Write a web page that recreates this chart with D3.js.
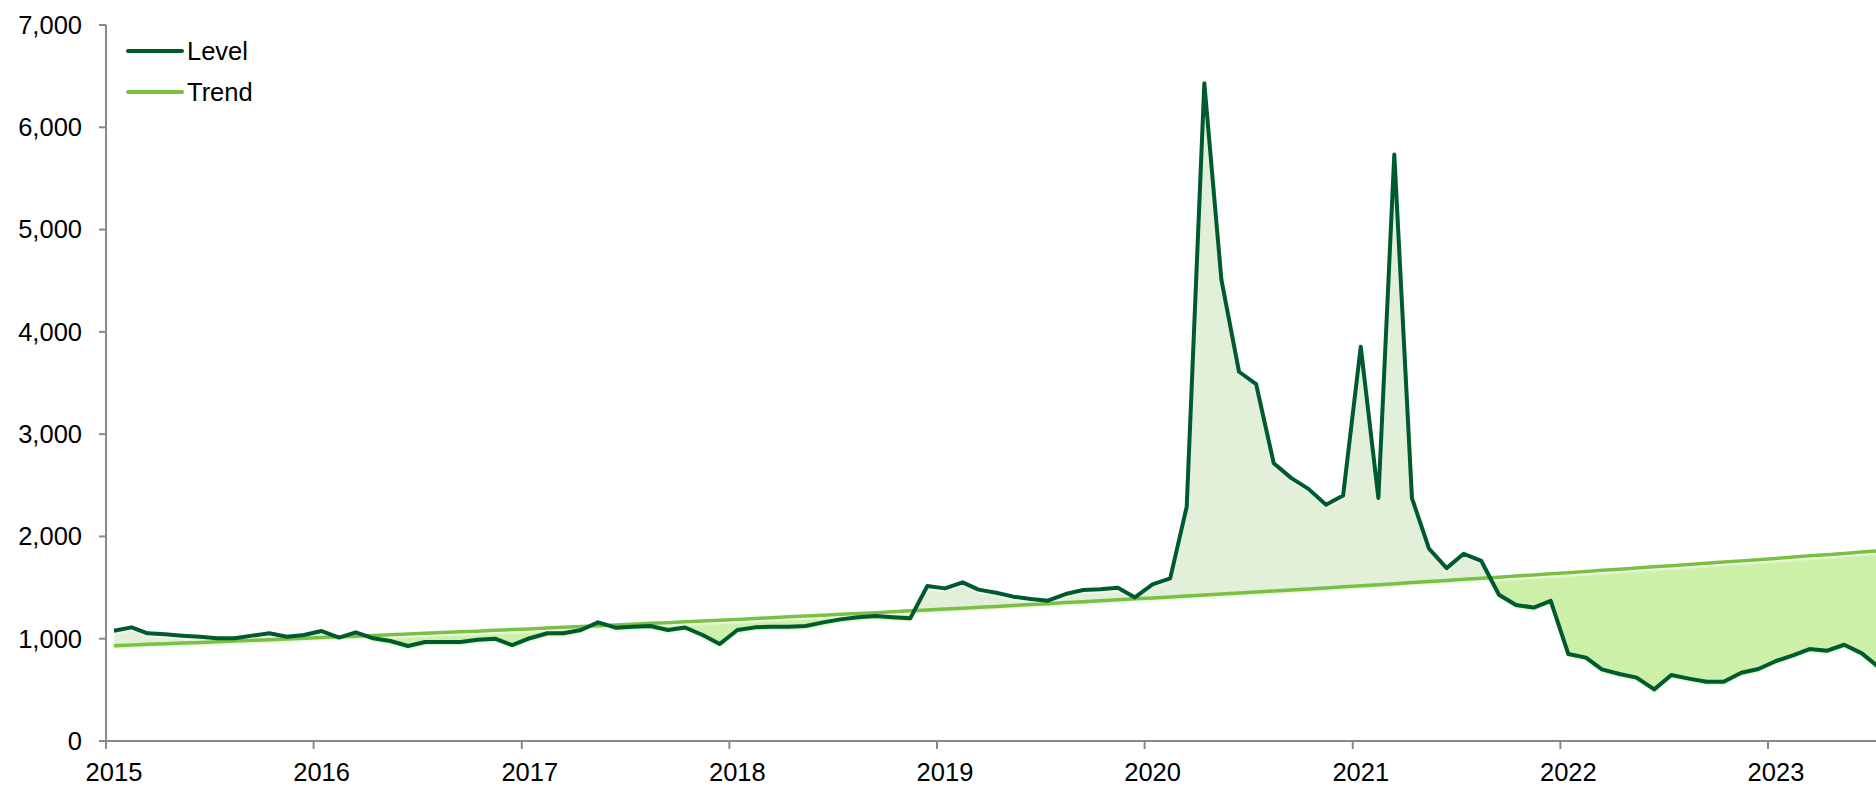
<!DOCTYPE html>
<html>
<head>
<meta charset="utf-8">
<script src="https://cdn.jsdelivr.net/npm/d3@7"></script>
<style>
  html, body { margin: 0; padding: 0; background: #fff; }
  svg { display: block; font-family: "Liberation Sans", Arial, sans-serif; }
</style>
</head>
<body>
<svg id="chart"></svg>
<script>
// serie mensili da gen 2015 a lug 2023
var level = [
  1078, 1111, 1053, 1043, 1030, 1020, 1004, 1004, 1030, 1053, 1020, 1036,
  1075, 1010, 1062, 1004, 978, 929, 968, 968, 968, 990, 1000, 938,
  1005, 1053, 1053, 1085, 1160, 1108, 1117, 1124, 1085, 1110, 1036, 948,
  1085, 1111, 1118, 1118, 1124, 1160, 1189, 1209, 1222, 1209, 1199, 1515,
  1492, 1551, 1480, 1450, 1411, 1388, 1372, 1437, 1476, 1483, 1499, 1404,
  1532, 1590, 2290, 6430, 4510, 3610, 3490, 2715, 2570, 2465, 2310, 2400,
  3855, 2375, 5735, 2375, 1880, 1690, 1830, 1760, 1430, 1330, 1305, 1370,
  850, 815, 700, 655, 620, 505, 645, 610, 580, 580, 668, 704,
  782, 840, 899, 883, 941, 857, 720
];

var trend = [
  932, 938, 945, 951, 958, 964, 971, 977, 984, 991, 997, 1004,
  1011, 1018, 1025, 1032, 1039, 1046, 1053, 1060, 1067, 1074, 1082, 1089,
  1096, 1104, 1111, 1119, 1127, 1134, 1142, 1150, 1157, 1165, 1173, 1181,
  1189, 1197, 1205, 1214, 1222, 1230, 1239, 1247, 1255, 1264, 1273, 1281,
  1290, 1299, 1308, 1316, 1325, 1334, 1343, 1353, 1362, 1371, 1380, 1390,
  1399, 1409, 1418, 1428, 1438, 1447, 1457, 1467, 1477, 1487, 1497, 1507,
  1518, 1528, 1538, 1549, 1559, 1570, 1581, 1591, 1602, 1613, 1624, 1635,
  1646, 1657, 1669, 1680, 1691, 1703, 1714, 1726, 1738, 1750, 1761, 1773,
  1785, 1798, 1810, 1822, 1834, 1847, 1859
];

var yearLabels = ["2015", "2016", "2017", "2018", "2019", "2020", "2021", "2022", "2023"];
var yTicks = [0, 1000, 2000, 3000, 4000, 5000, 6000, 7000];
var seriesNames = ["Level", "Trend"];

var W = 1876, H = 787;
var colLevel = "#005a30";
var colTrend = "#7ac143";
var colAxis = "#898989";
var fontSize = "25.5px";

// ogni punto e' a meta' mese
var dati = level.map(function(v, i) {
  return { date: new Date(2015, i, 15), level: v, trend: trend[i] };
});

var svg = d3.select("#chart").attr("width", W).attr("height", H);

var x = d3.scaleTime()
  .domain([new Date(2015, 0, 1), new Date(2023, 0, 1)])
  .range([106, 1768]);
var y = d3.scaleLinear().domain([0, 7000]).range([741, 25]);

var defs = svg.append("defs");

// clip: zona sopra e sotto la linea di trend
defs.append("clipPath").attr("id", "sopra")
  .append("path")
  .attr("d", d3.area()
    .x(function(d) { return x(d.date); })
    .y0(-10)
    .y1(function(d) { return y(d.trend); })(dati));

defs.append("clipPath").attr("id", "sotto")
  .append("path")
  .attr("d", d3.area()
    .x(function(d) { return x(d.date); })
    .y0(function(d) { return y(d.trend); })
    .y1(H + 10)(dati));

defs.append("filter").attr("id", "sfoca")
  .append("feGaussianBlur").attr("stdDeviation", 0.8);

// area tra livello e trend
var areaGap = d3.area()
  .x(function(d) { return x(d.date); })
  .y0(function(d) { return y(d.trend); })
  .y1(function(d) { return y(d.level); });

var riempimento = svg.append("g")
  .attr("transform", "translate(0,3)")
  .attr("filter", "url(#sfoca)");

riempimento.append("path")
  .attr("d", areaGap(dati))
  .attr("clip-path", "url(#sopra)")
  .attr("fill", "#e2f0d9");

riempimento.append("path")
  .attr("d", areaGap(dati))
  .attr("clip-path", "url(#sotto)")
  .attr("fill", "#cdf0a9");

// assi
svg.append("line")
  .attr("x1", 106).attr("y1", 25).attr("x2", 106).attr("y2", 741)
  .attr("stroke", colAxis).attr("stroke-width", 2);
svg.append("line")
  .attr("x1", 106).attr("y1", 741).attr("x2", W).attr("y2", 741)
  .attr("stroke", colAxis).attr("stroke-width", 2);

svg.selectAll(".ytick")
  .data(yTicks)
  .enter()
  .append("line")
  .attr("x1", 99).attr("x2", 106)
  .attr("y1", function(d) { return y(d); })
  .attr("y2", function(d) { return y(d); })
  .attr("stroke", colAxis).attr("stroke-width", 2);

svg.selectAll(".ylab")
  .data(yTicks)
  .enter()
  .append("text")
  .attr("x", 82)
  .attr("y", function(d) { return y(d); })
  .attr("dy", "0.35em")
  .attr("text-anchor", "end")
  .style("font-size", fontSize)
  .style("fill", "#000")
  .text(d3.format(","));

svg.selectAll(".xtick")
  .data(yearLabels)
  .enter()
  .append("line")
  .attr("x1", function(d) { return x(new Date(+d, 0, 1)); })
  .attr("x2", function(d) { return x(new Date(+d, 0, 1)); })
  .attr("y1", 741).attr("y2", 749)
  .attr("stroke", colAxis).attr("stroke-width", 2);

svg.selectAll(".xlab")
  .data(yearLabels)
  .enter()
  .append("text")
  .attr("x", function(d) { return x(new Date(+d, 0, 15)); })
  .attr("y", 781)
  .attr("text-anchor", "middle")
  .style("font-size", fontSize)
  .style("fill", "#000")
  .text(function(d) { return d; });

// linee
var lineTrend = d3.line()
  .x(function(d) { return x(d.date); })
  .y(function(d) { return y(d.trend); });
var lineLevel = d3.line()
  .x(function(d) { return x(d.date); })
  .y(function(d) { return y(d.level); });

svg.append("path")
  .attr("d", lineTrend(dati))
  .attr("fill", "none")
  .attr("stroke", colTrend)
  .attr("stroke-width", 3.5);

svg.append("path")
  .attr("d", lineLevel(dati))
  .attr("fill", "none")
  .attr("stroke", colLevel)
  .attr("stroke-width", 4)
  .attr("stroke-linejoin", "round");

// legenda
var legenda = svg.selectAll(".leg")
  .data(seriesNames)
  .enter()
  .append("g")
  .attr("transform", function(d, i) { return "translate(128," + (51 + i * 41) + ")"; });

legenda.append("line")
  .attr("x1", 0).attr("x2", 54)
  .attr("stroke", function(d, i) { return i === 0 ? colLevel : colTrend; })
  .attr("stroke-width", 4)
  .attr("stroke-linecap", "round");

legenda.append("text")
  .attr("x", 59)
  .attr("dy", "0.35em")
  .style("font-size", fontSize)
  .style("fill", "#000")
  .text(function(d) { return d; });
</script>
</body>
</html>
